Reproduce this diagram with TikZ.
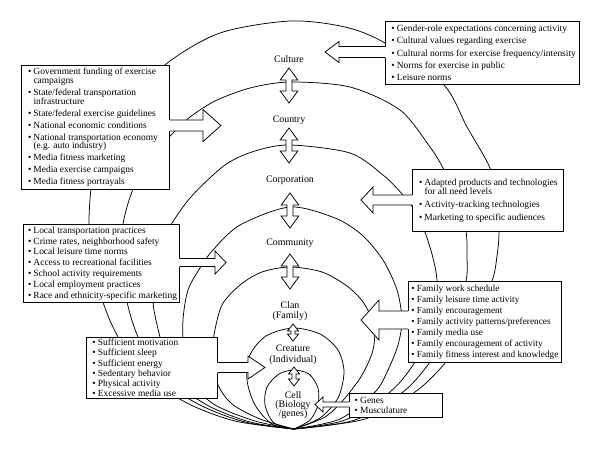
\documentclass[tikz,border=0pt]{standalone}
\usepackage{fontspec}
\setmainfont{Liberation Serif}
\usetikzlibrary{calc}
\newcommand{\bul}{\makebox[5.5pt][l]{\textbullet}}
\newcommand{\cnt}{\hspace*{5.5pt}}
% horizontal block arrow: #1 box anchor, #2 tip, #3 shaft half, #4 head half, #5 signed head length, #6 signed overlap
\newcommand{\hblk}[6]{%
  \fill[white] let \p1=(#1), \p2=(#2) in
    ({\x1+(#6)},{\y2+(#3)}) -- ({\x2+(#5)},{\y2+(#3)}) -- ({\x2+(#5)},{\y2+(#4)}) -- (\x2,\y2) -- ({\x2+(#5)},{\y2-(#4)}) -- ({\x2+(#5)},{\y2-(#3)}) -- ({\x1+(#6)},{\y2-(#3)}) -- cycle;
  \draw[blkline] let \p1=(#1), \p2=(#2) in
    (\x1,{\y2+(#3)}) -- ({\x2+(#5)},{\y2+(#3)}) -- ({\x2+(#5)},{\y2+(#4)}) -- (\x2,\y2) -- ({\x2+(#5)},{\y2-(#4)}) -- ({\x2+(#5)},{\y2-(#3)}) -- (\x1,{\y2-(#3)});%
}
% vertical double block arrow: #1 top, #2 bottom, #3 shaft half, #4 head half, #5 head length
\newcommand{\dblarrow}[5]{%
  \draw[blk] let \p1=(#1), \p2=(#2) in
    (\x1,\y1) -- ({\x1+(#4)},{\y1-(#5)}) -- ({\x1+(#3)},{\y1-(#5)}) -- ({\x1+(#3)},{\y2+(#5)}) -- ({\x1+(#4)},{\y2+(#5)}) -- (\x1,\y2) -- ({\x1-(#4)},{\y2+(#5)}) -- ({\x1-(#3)},{\y2+(#5)}) -- ({\x1-(#3)},{\y1-(#5)}) -- ({\x1-(#4)},{\y1-(#5)}) -- cycle;%
}
\begin{document}
\begin{tikzpicture}[x=1pt,y=-1pt,
  ring/.style={line width=0.75pt},
  box/.style={draw, fill=white, line width=0.75pt, anchor=north west, inner sep=0pt},
  txt/.style={anchor=west, align=left, inner sep=0pt, font=\fontsize{9.45}{9.3}\selectfont},
  lab/.style={align=center, inner sep=0pt, font=\fontsize{9.9}{10.7}\selectfont},
  blk/.style={draw, fill=white, line width=0.75pt, line join=miter},
  blkline/.style={line width=0.75pt, line join=miter}]
\useasboundingbox (0,0) rectangle (600,451);

% nested rings, all meeting at the bottom point
\draw[ring] plot[smooth] coordinates {(294,429) (235,421) (185,402) (140,370) (112,325) (95,275) (89,222) (95,165) (118,112) (166,64) (220,33) (290,21) (345,27) (385,43) (443,84) (467,127) (490,168) (497,200) (499,232) (497,256) (492,281) (472,325) (446,362) (415,392) (365,419) (294,429)};
\draw[ring] plot[smooth] coordinates {(294,429) (245,422) (200,405) (160,378) (138,337) (127,302) (121,262) (123,224) (133,189) (150,158) (176,130) (190,117) (215,101) (250,88) (290,82) (350,87) (400,110) (430,147) (443,168) (458,200) (466,231) (467,256) (466,281) (452,325) (430,362) (403,392) (355,420) (294,429)};
\draw[ring] plot[smooth] coordinates {(294,429) (250,422) (207,405) (172,378) (160,337) (153,302) (155,265) (167,232) (190,198) (225,165) (255,151) (290,145) (350,153) (383,175) (403,195) (418,215) (426,235) (433,258) (437,281) (436,320) (415,362) (390,392) (345,420) (294,429)};
\draw[ring] plot[smooth] coordinates {(294,429) (255,421) (215,405) (195,385) (184,355) (183,320) (188,290) (200,268) (213,250) (240,225) (290,207) (335,218) (362,235) (383,260) (397,290) (402,320) (398,345) (388,370) (375,392) (340,419) (294,429)};
\draw[ring] plot[smooth] coordinates {(294,429) (260,419) (232,404) (218,385) (212,360) (214,335) (222,305) (240,285) (262,272) (290,267) (322,272) (347,286) (363,302) (374,325) (373,350) (362,375) (345,398) (325,417) (294,429)};
\draw[ring] plot[smooth] coordinates {(294,429) (272,424) (255,405) (247,380) (250,355) (266,336) (293,328) (320,334) (338,350) (344,372) (338,398) (320,418) (294,429)};
\draw[ring] plot[smooth] coordinates {(294,429) (274,423) (265,405) (267,387) (279,374) (294,370) (309,374) (318,388) (318,405) (310,420) (294,429)};

% boxes
\node[box, minimum width=194pt, minimum height=63pt] (cultbox) at (385,21) {};
\node[txt] (culttxt) at ($(cultbox.west)+(6.2,0)$) {%
\bul Gender-role expectations concerning activity\\[3pt]
\bul Cultural values regarding exercise\\[3pt]
\bul Cultural norms for exercise frequency/intensity\\[3pt]
\bul Norms for exercise in public\\[3pt]
\bul Leisure norms};

\node[box, minimum width=148pt, minimum height=124pt] (ctrybox) at (21,65) {};
\node[txt, font=\fontsize{9.45}{8.7}\selectfont] (ctrytxt) at ($(ctrybox.west)+(6.8,0)$) {%
\bul Government funding of exercise\\\cnt campaigns\\[3.3pt]
\bul State/federal transportation\\\cnt infrastructure\\[3.3pt]
\bul State/federal exercise guidelines\\[3.3pt]
\bul National economic conditions\\[3.3pt]
\bul National transportation economy\\\cnt (e.g. auto industry)\\[3.3pt]
\bul Media fitness marketing\\[3.3pt]
\bul Media exercise campaigns\\[3.3pt]
\bul Media fitness portrayals};

\node[box, minimum width=151pt, minimum height=62pt] (corpbox) at (412,169) {};
\node[txt, font=\fontsize{9.45}{9.5}\selectfont] (corptxt) at ($(corpbox.west)+(6.8,0)$) {%
\bul Adapted products and technologies\\\cnt for all need levels\\[3.2pt]
\bul Activity-tracking technologies\\[3.2pt]
\bul Marketing to specific audiences};

\node[box, minimum width=156pt, minimum height=78pt] (commbox) at (23,224) {};
\node[txt] (commtxt) at ($(commbox.west)+(4.8,0)$) {%
\bul Local transportation practices\\[1.5pt]
\bul Crime rates, neighborhood safety\\[1.5pt]
\bul Local leisure time norms\\[1.5pt]
\bul Access to recreational facilities\\[1.5pt]
\bul School activity requirements\\[1.5pt]
\bul Local employment practices\\[1.5pt]
\bul Race and ethnicity-specific marketing};

\node[box, minimum width=153pt, minimum height=81pt] (clanbox) at (408,281) {};
\node[txt, font=\fontsize{9.3}{9.3}\selectfont] (clantxt) at ($(clanbox.west)+(3.2,0)$) {%
\bul Family work schedule\\[1.7pt]
\bul Family leisure time activity\\[1.7pt]
\bul Family encouragement\\[1.7pt]
\bul Family activity patterns/preferences\\[1.7pt]
\bul Family media use\\[1.7pt]
\bul Family encouragement of activity\\[1.7pt]
\bul Family fitness interest and knowledge};

\node[box, minimum width=131pt, minimum height=61pt] (creabox) at (86,337) {};
\node[txt] (creatxt) at ($(creabox.west)+(6.2,0)$) {%
\bul Sufficient motivation\\[0.9pt]
\bul Sufficient sleep\\[0.9pt]
\bul Sufficient energy\\[0.9pt]
\bul Sedentary behavior\\[0.9pt]
\bul Physical activity\\[0.9pt]
\bul Excessive media use};

\node[box, minimum width=93pt, minimum height=24pt] (genebox) at (349,393) {};
\node[txt] (genetxt) at ($(genebox.west)+(5.5,0)$) {%
\bul Genes\\[1.4pt]
\bul Musculature};

% block arrows from the boxes
\coordinate (tcult) at (325,52);
\coordinate (tctry) at (221,125.5);
\coordinate (tcorp) at (361,200);
\coordinate (tcomm) at (226,262.5);
\coordinate (tclan) at (361,320);
\coordinate (tcrea) at (265,367.5);
\coordinate (tgene) at (315,404.5);
\hblk{cultbox.west}{tcult}{5.5pt}{10.5pt}{14pt}{1pt}
\hblk{ctrybox.east}{tctry}{5.5pt}{16pt}{-18pt}{-1pt}
\hblk{corpbox.west}{tcorp}{5pt}{13pt}{12pt}{1pt}
\hblk{commbox.east}{tcomm}{4pt}{11.5pt}{-11pt}{-1pt}
\hblk{clanbox.west}{tclan}{9pt}{20pt}{18pt}{1pt}
\hblk{creabox.east}{tcrea}{5pt}{11.5pt}{-17pt}{-1pt}
\hblk{genebox.west}{tgene}{2.5pt}{7.5pt}{8pt}{1pt}

% ring labels
\node[lab] (culture) at (289,59) {Culture};
\node[lab] (country) at (289,120) {Country};
\node[lab] (corporation) at (290,180) {Corporation};
\node[lab] (community) at (290,243) {Community};
\node[lab] (clan) at (290,311) {Clan\\(Family)};
\node[lab] (creature) at (293,355) {Creature\\(Individual)};
\node[lab, font=\fontsize{9.9}{9.3}\selectfont] (cell) at (293,405) {Cell\\(Biology\\/genes)};

% double arrows between levels
\dblarrow{$(culture.center)+(0,9)$}{$(country.center)+(0,-17)$}{3pt}{8.8pt}{12pt}
\dblarrow{$(country.center)+(0,8)$}{$(corporation.center)+(0,-17)$}{3pt}{8.8pt}{12pt}
\dblarrow{$(corporation.center)+(0,13)$}{$(community.center)+(0,-15)$}{3pt}{8.8pt}{12pt}
\dblarrow{$(community.center)+(0,11)$}{$(clan.center)+(0,-22)$}{3pt}{8.8pt}{12pt}
\dblarrow{$(clan.center)+(3,13)$}{$(creature.center)+(0,-14)$}{2pt}{5.5pt}{7pt}
\dblarrow{$(creature.center)+(1,12)$}{$(cell.center)+(0,-19)$}{2pt}{5.5pt}{7pt}
\end{tikzpicture}
\end{document}
